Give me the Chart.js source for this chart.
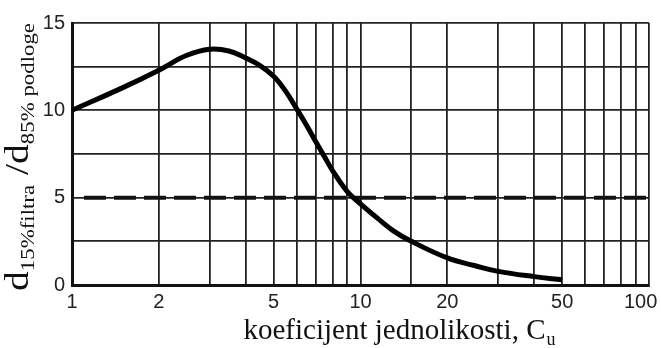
<!DOCTYPE html>
<html>
<head>
<meta charset="utf-8">
<script src="https://cdn.jsdelivr.net/npm/chart.js@4/dist/chart.umd.min.js"></script>
<style>
html,body{margin:0;padding:0;background:#fff;}
#wrap{width:661px;height:348px;}
</style>
</head>
<body>
<div id="wrap"><canvas id="c" width="661" height="348"></canvas></div>
<script>
// Data
const cuX = [1, 1.5, 2, 2.5, 3, 3.5, 4, 4.5, 5, 5.5, 6, 6.5, 7, 7.5, 8, 9, 10, 11.5, 13, 15, 20, 25, 30, 40, 50];
const ratioY = [10, 11.3, 12.3, 13.15, 13.5, 13.4, 13.0, 12.55, 11.95, 11.1, 10.1, 9.15, 8.2, 7.35, 6.55, 5.35, 4.65, 3.8, 3.1, 2.5, 1.55, 1.1, 0.78, 0.48, 0.3];
const limitX = [1.1, 100];
const limitY = [5, 5];
const xTickLabels = [1, 2, 5, 10, 20, 50, 100];
const yTickLabels = [0, 5, 10, 15];
const xTitle = ["koeficijent jednolikosti, C", "u"];
const yTitle = [["d", "main"], ["15%filtra", "sub"], [" /d", "main"], ["85% podloge", "sub"]];

const toPts = (xs, ys) => xs.map((x, i) => ({x: x, y: ys[i]}));

const titlesPlugin = {
  id: 'titles',
  afterDraw(chart) {
    const ctx = chart.ctx;
    ctx.save();
    ctx.fillStyle = '#111';
    // x title
    ctx.textBaseline = 'alphabetic';
    ctx.font = '29px "Liberation Serif"';
    const w1 = ctx.measureText(xTitle[0]).width;
    ctx.font = '18px "Liberation Serif"';
    const w2 = ctx.measureText(xTitle[1]).width;
    let sx = 399 - (w1 + w2) / 2;
    ctx.font = '29px "Liberation Serif"';
    ctx.fillText(xTitle[0], sx, 339);
    ctx.font = '18px "Liberation Serif"';
    ctx.fillText(xTitle[1], sx + w1 + 1, 345);
    ctx.restore();
    // y title (rotated)
    ctx.save();
    ctx.fillStyle = '#111';
    ctx.textBaseline = 'alphabetic';
    const fonts = {main: '33px "Liberation Serif"', sub: '19px "Liberation Serif"'};
    let total = 0;
    const widths = yTitle.map(([t, k]) => { ctx.font = fonts[k]; const w = ctx.measureText(t).width; total += w; return w; });
    const target = 268;
    const s = target / total;
    ctx.translate(28, 157);
    ctx.rotate(-Math.PI / 2);
    ctx.scale(s, 1);
    let px = -total / 2;
    yTitle.forEach(([t, k], i) => {
      ctx.font = fonts[k];
      ctx.fillText(t, px, k === 'main' ? 0 : 6);
      px += widths[i];
    });
    ctx.restore();
  }
};

new Chart(document.getElementById('c'), {
  type: 'scatter',
  data: {
    datasets: [
      {
        data: toPts(cuX, ratioY),
        showLine: true,
        borderColor: '#000',
        borderWidth: 5,
        pointRadius: 0,
        tension: 0.4,
        fill: false
      },
      {
        data: toPts(limitX, limitY),
        showLine: true,
        borderColor: '#111',
        borderWidth: 4,
        borderDash: [22, 8],
        pointRadius: 0,
        fill: false
      }
    ]
  },
  options: {
    responsive: false,
    animation: false,
    events: [],
    layout: {padding: {left: 0, right: 12, top: 23, bottom: 0}},
    plugins: {legend: {display: false}, tooltip: {enabled: false}},
    scales: {
      x: {
        type: 'logarithmic',
        min: 1,
        max: 100,
        afterFit(scale) { scale.height = 63; scale.paddingLeft = 0; scale.paddingRight = 0; },
        grid: {color: '#222', lineWidth: 1.8, drawTicks: false},
        border: {color: '#111', width: 3},
        ticks: {
          autoSkip: false,
          maxRotation: 0,
          padding: 5,
          color: '#222',
          font: {family: '"Liberation Sans", Arial, sans-serif', size: 20},
          callback: (v) => xTickLabels.includes(v) ? (v === 100 ? '100   ' : String(v)) : ''
        }
      },
      y: {
        type: 'linear',
        min: 0,
        max: 15,
        afterFit(scale) { scale.width = 72; scale.paddingTop = 0; scale.paddingBottom = 0; },
        grid: {color: '#222', lineWidth: 1.8, drawTicks: false},
        border: {color: '#111', width: 3},
        ticks: {
          stepSize: 2.5,
          autoSkip: false,
          padding: 7,
          color: '#222',
          font: {family: '"Liberation Sans", Arial, sans-serif', size: 20},
          callback: (v) => yTickLabels.includes(v) ? String(v) : ''
        }
      }
    }
  },
  plugins: [titlesPlugin]
});
</script>
</body>
</html>
